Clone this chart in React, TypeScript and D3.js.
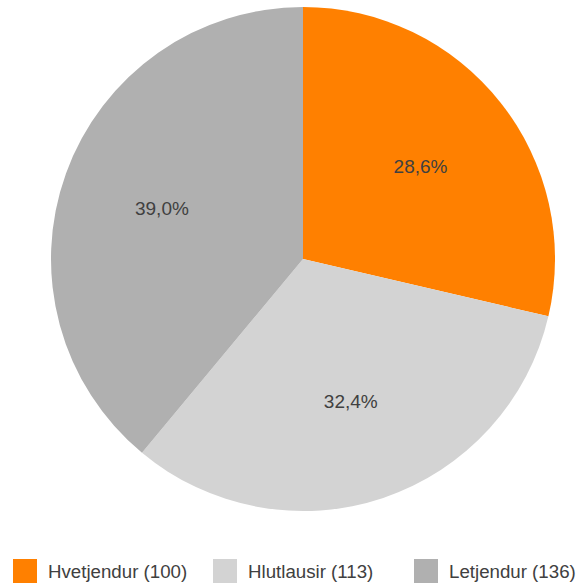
import * as d3 from "d3";

const categories = ["Hvetjendur", "Hlutlausir", "Letjendur"];
const counts = [100, 113, 136];
const colors = ["#ff8000", "#d3d3d3", "#b0b0b0"];

const WIDTH = 578;
const HEIGHT = 585;
const CX = 303;
const CY = 259;
const RADIUS = 252;
const LABEL_R = 150;

// percentages rounded to one decimal so they add up to 100 (largest remainder)
function roundedShares(vals: number[]) {
  const total = d3.sum(vals);
  const raw = vals.map((v) => (v / total) * 1000);
  const floors = raw.map((r) => Math.floor(r));
  let left = 1000 - d3.sum(floors);
  const order = d3.range(vals.length).sort((a, b) => (raw[b] - floors[b]) - (raw[a] - floors[a]));
  for (const i of order) {
    if (left <= 0) break;
    floors[i] += 1;
    left -= 1;
  }
  return floors.map((f) => (f / 10).toFixed(1).replace(".", ",") + "%");
}

export default function App() {
  const shares = roundedShares(counts);
  const pie = d3
    .pie<number>()
    .sort(null)
    .value((d) => d);
  const arcs = pie(counts);
  const arcGen = d3.arc<d3.PieArcDatum<number>>().innerRadius(0).outerRadius(RADIUS);
  const labelArc = d3
    .arc<d3.PieArcDatum<number>>()
    .innerRadius(LABEL_R)
    .outerRadius(LABEL_R);

  // legend positions
  const legendX = [13, 213, 414];

  return (
    <svg
      width={WIDTH}
      height={HEIGHT}
      style={{ position: "absolute", left: 0, top: 0 }}
      fontFamily="Arial, 'Liberation Sans', sans-serif"
    >
      <g transform={`translate(${CX},${CY})`}>
        {arcs.map((a, i) => (
          <path key={i} d={arcGen(a) ?? ""} fill={colors[i]} />
        ))}
        {arcs.map((a, i) => {
          const [x, y] = labelArc.centroid(a);
          return (
            <text
              key={i}
              x={x}
              y={y + 7}
              textAnchor="middle"
              fontSize={19}
              fill="#404040"
            >
              {shares[i]}
            </text>
          );
        })}
      </g>
      <g>
        {categories.map((c, i) => (
          <g key={c} transform={`translate(${legendX[i]},559)`}>
            <rect width={24} height={24} fill={colors[i]} />
            <text x={35} y={19} fontSize={18.7} fill="#404040">
              {`${c} (${counts[i]})`}
            </text>
          </g>
        ))}
      </g>
    </svg>
  );
}
